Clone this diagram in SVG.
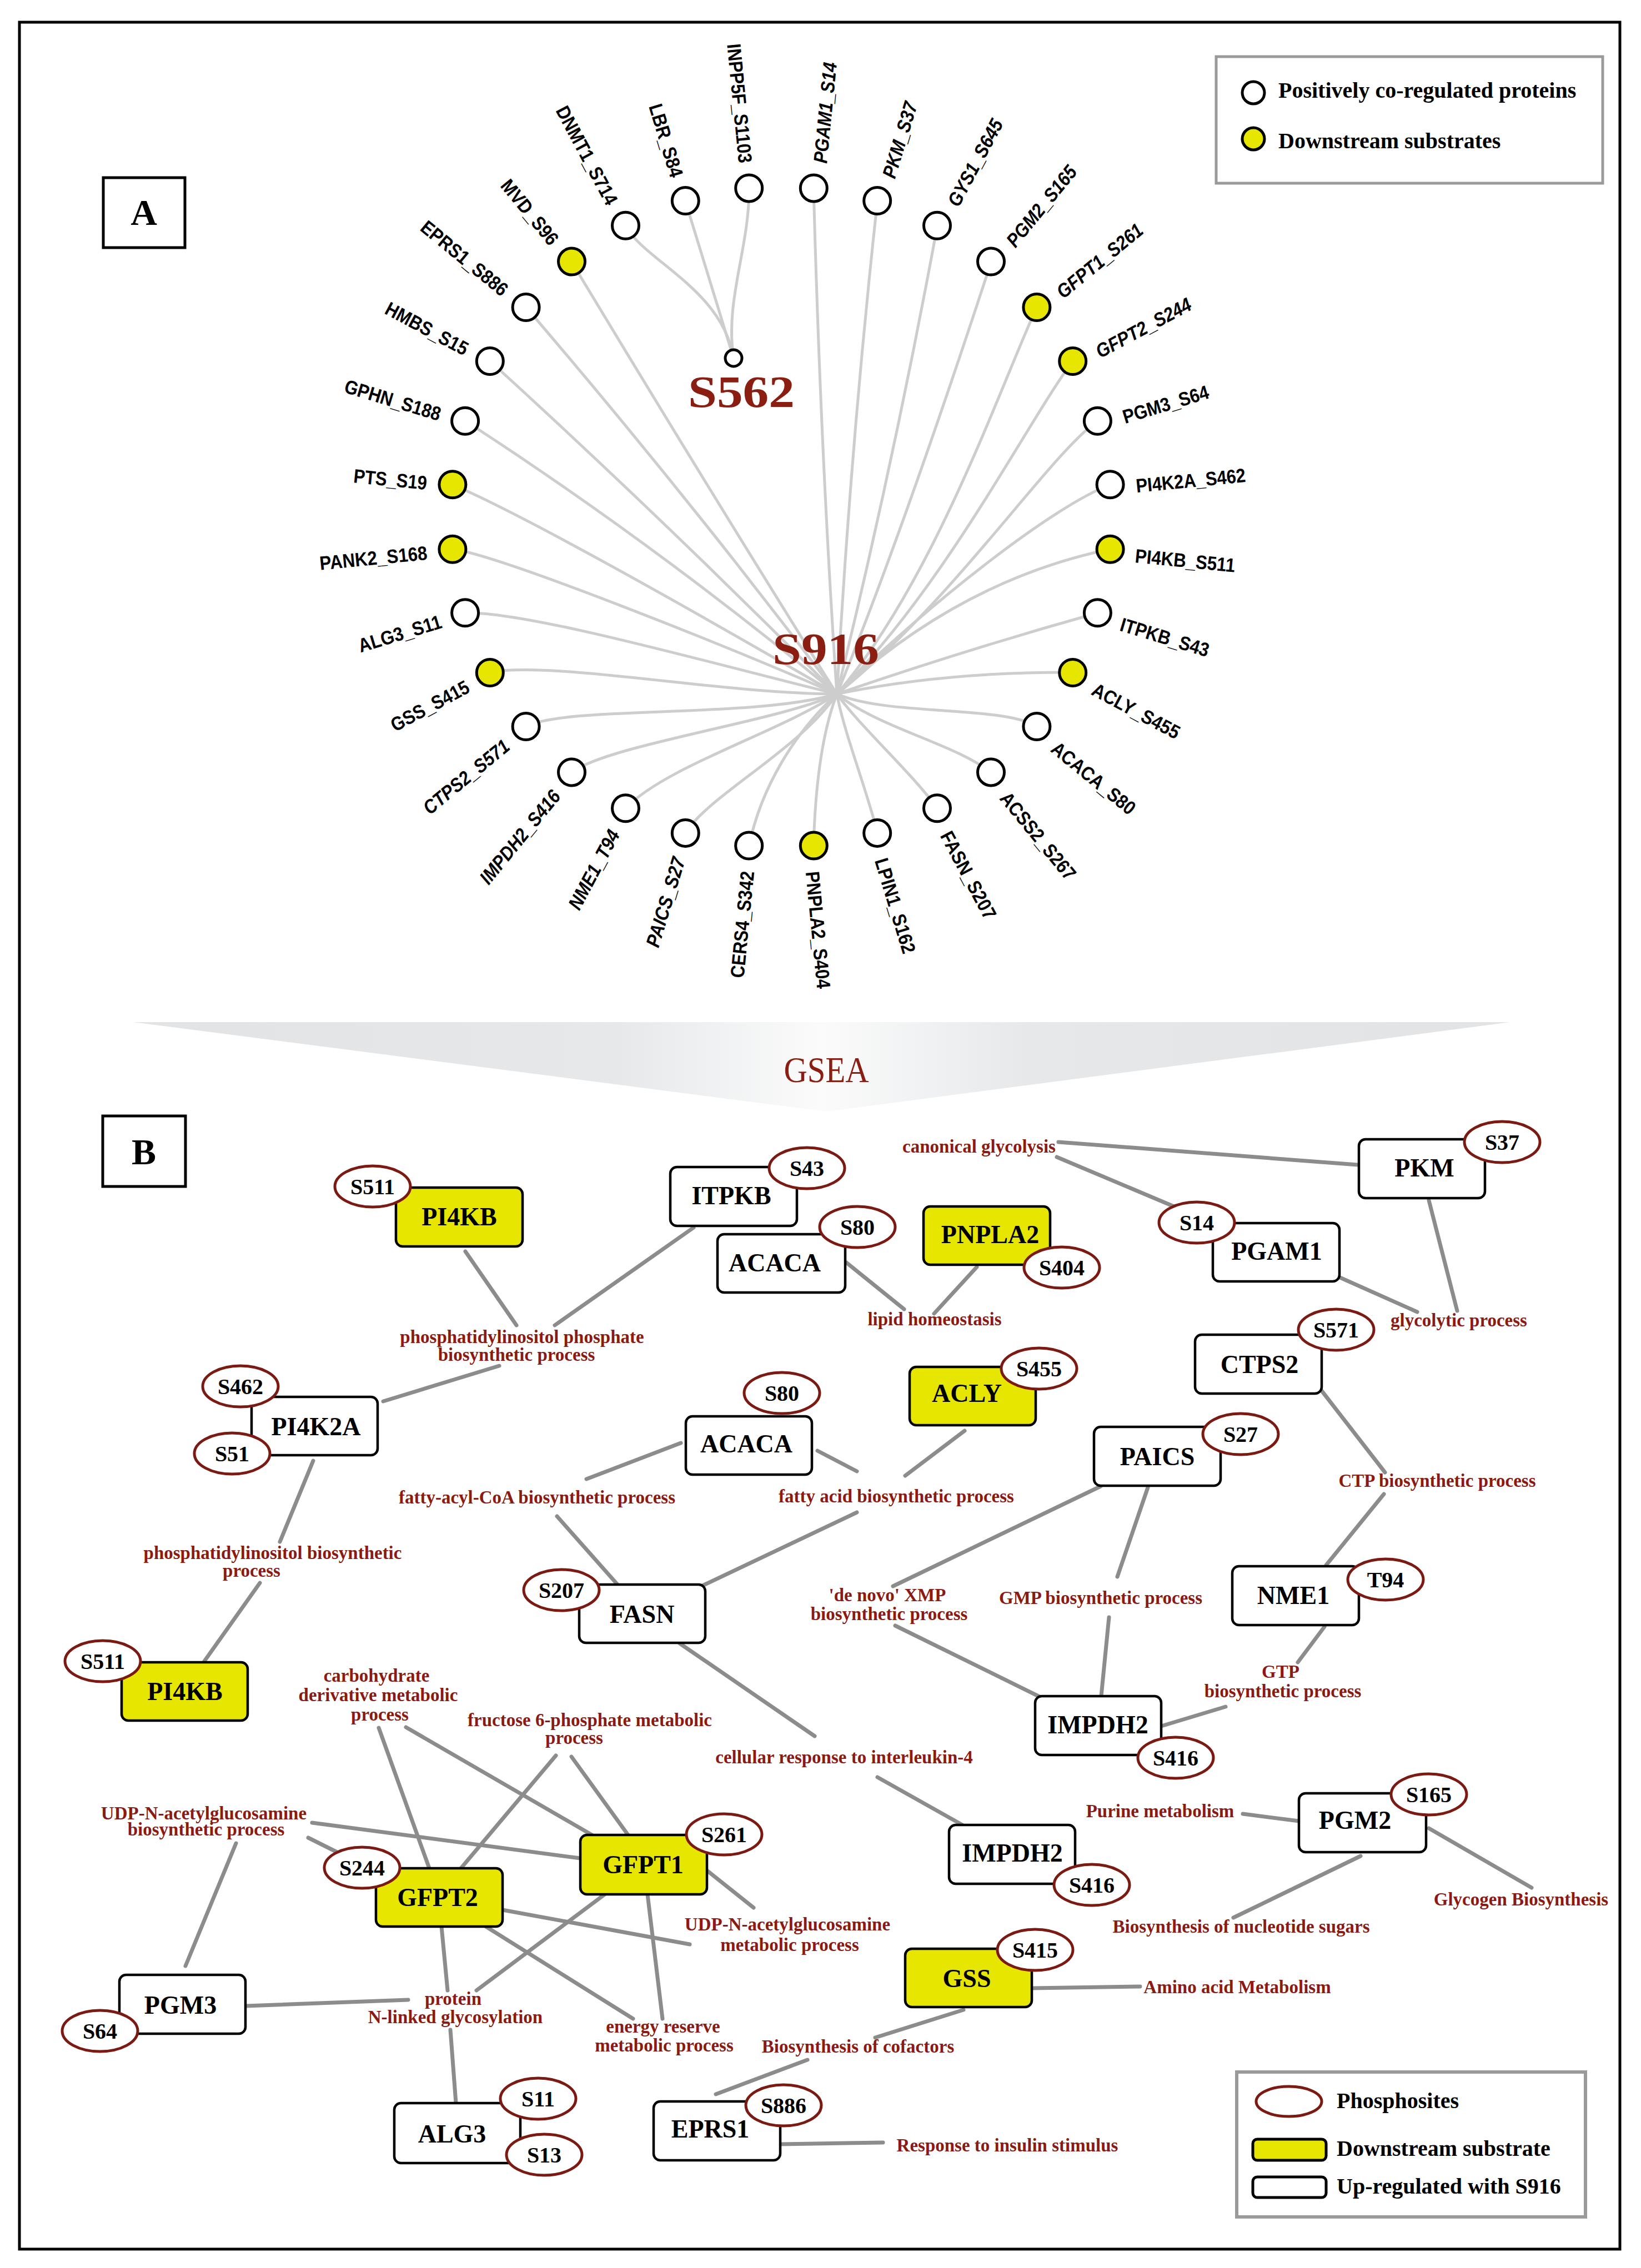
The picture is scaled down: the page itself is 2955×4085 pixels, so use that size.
<svg xmlns="http://www.w3.org/2000/svg" width="2955" height="4085" viewBox="0 0 2955 4085">
<defs>
<linearGradient id="gsea" x1="0" y1="0" x2="1" y2="0">
<stop offset="0" stop-color="#e2e3e5"/>
<stop offset="0.35" stop-color="#e6e8ea"/>
<stop offset="0.5" stop-color="#fbfbfb"/>
<stop offset="0.65" stop-color="#e6e8ea"/>
<stop offset="1" stop-color="#e2e3e5"/>
</linearGradient>
<style>
.ea{fill:none;stroke:#cdcdcd;stroke-width:5}
.na{fill:#fff;stroke:#000;stroke-width:5}
.na.y{fill:#e6e600}
.la{font-family:"Liberation Sans",Arial,sans-serif;font-weight:bold;font-size:35px;fill:#000}
.r{dominant-baseline:auto}
.it{font-style:italic}
.en{text-anchor:end}
.eb{stroke:#8c8c8c;stroke-width:7;stroke-linecap:round}
.nb rect{fill:#fff;stroke:#000;stroke-width:4.5}
.nb.y rect{fill:#e6e600}
.nt{font-family:"Liberation Serif","Times New Roman",serif;font-weight:bold;font-size:46px;text-anchor:middle;fill:#000}
.ps{fill:#fff;stroke:#7b1a12;stroke-width:5}
.pt{font-family:"Liberation Serif","Times New Roman",serif;font-weight:bold;font-size:40px;text-anchor:middle;fill:#000}
.gl{font-family:"Liberation Serif","Times New Roman",serif;font-weight:bold;font-size:33px;text-anchor:middle;fill:#8a1a12}
.lg{font-family:"Liberation Serif","Times New Roman",serif;font-weight:bold;font-size:40px;fill:#000}
.hub{font-family:"Liberation Serif","Times New Roman",serif;font-weight:bold;font-size:80px;text-anchor:middle;fill:#8b1e12}
.pl{font-family:"Liberation Serif","Times New Roman",serif;font-weight:bold;font-size:66px;text-anchor:middle;fill:#000}
</style>
</defs>
<rect x="0" y="0" width="2955" height="4085" fill="#fff"/>
<rect x="35" y="40" width="2882" height="4011" fill="none" stroke="#000" stroke-width="5"/>

<!-- Panel A -->
<g id="panelA-label"><rect x="186" y="320" width="147" height="126" fill="#fff" stroke="#000" stroke-width="5"/><text class="pl" x="259" y="405">A</text></g>

<g id="legendA">
<rect x="2190" y="102" width="696" height="228" fill="#fff" stroke="#9a9a9a" stroke-width="5"/>
<circle class="na" cx="2257" cy="167" r="20"/>
<circle class="na y" cx="2257" cy="250" r="20"/>
<text class="lg" x="2302" y="176">Positively co-regulated proteins</text>
<text class="lg" x="2302" y="267">Downstream substrates</text>
</g>

<g id="connectorsA">
<path class="ea" d="M1465,339 Q1478,820 1507,1250"/>
<path class="ea" d="M1580,362 Q1532,800 1507,1250"/>
<path class="ea" d="M1688,406 Q1610,830 1507,1250"/>
<path class="ea" d="M1785,471 C1730,640 1610,1000 1507,1250"/>
<path class="ea" d="M1867,553 C1800,700 1680,1050 1507,1250"/>
<path class="ea" d="M1932,650 C1850,760 1700,1060 1507,1250"/>
<path class="ea" d="M1976,758 C1880,830 1720,1080 1507,1250"/>
<path class="ea" d="M1999,873 C1900,910 1680,1080 1507,1250"/>
<path class="ea" d="M1999,989 Q1730,1045 1507,1250"/>
<path class="ea" d="M1976,1104 Q1740,1170 1507,1250"/>
<path class="ea" d="M1932,1211 Q1700,1210 1507,1250"/>
<path class="ea" d="M1867,1308 C1800,1270 1600,1290 1507,1250"/>
<path class="ea" d="M1784,1391 C1720,1340 1580,1310 1507,1250"/>
<path class="ea" d="M1688,1456 C1640,1390 1550,1310 1507,1250"/>
<path class="ea" d="M1580,1500 C1560,1420 1520,1320 1507,1250"/>
<path class="ea" d="M1465,1523 C1468,1420 1480,1320 1507,1250"/>
<path class="ea" d="M1349,1523 C1370,1420 1430,1320 1507,1250"/>
<path class="ea" d="M1234,1500 C1280,1430 1440,1350 1507,1250"/>
<path class="ea" d="M1126,1456 C1200,1380 1400,1320 1507,1250"/>
<path class="ea" d="M1029,1391 C1100,1340 1400,1300 1507,1250"/>
<path class="ea" d="M947,1308 C1030,1270 1350,1295 1507,1250"/>
<path class="ea" d="M882,1211 C1000,1190 1300,1250 1507,1250"/>
<path class="ea" d="M838,1104 C950,1100 1300,1200 1507,1250"/>
<path class="ea" d="M815,989 C900,1000 1300,1160 1507,1250"/>
<path class="ea" d="M815,873 C950,930 1300,1130 1507,1250"/>
<path class="ea" d="M838,758 Q1180,980 1507,1250"/>
<path class="ea" d="M882,650 Q1200,940 1507,1250"/>
<path class="ea" d="M947,553 Q1240,895 1507,1250"/>
<path class="ea" d="M1029,471 Q1260,855 1507,1250"/>
<path class="ea" d="M1126,406 C1160,470 1300,520 1321,645"/>
<path class="ea" d="M1234,362 L1321,645"/>
<path class="ea" d="M1349,339 C1349,450 1305,540 1321,645"/>
</g>

<g id="hub-S916"><text class="hub" x="1487" y="1196" textLength="192" lengthAdjust="spacingAndGlyphs">S916</text></g>
<g id="hub-S562"><circle class="na" cx="1321" cy="645" r="15"/><text class="hub" x="1335" y="733" textLength="192" lengthAdjust="spacingAndGlyphs">S562</text></g>

<g id="nA-PGAM1_S14"><circle class="na" cx="1465.3" cy="338.9" r="24"/><text class="la it" x="1469.8" y="293.1" dy="0.55em" textLength="182.6" lengthAdjust="spacingAndGlyphs" transform="rotate(-84.375 1469.8 293.1)">PGAM1_S14</text></g>
<g id="nA-PKM_S37"><circle class="na" cx="1579.7" cy="361.6" r="24"/><text class="la it" x="1593.1" y="317.6" dy="0.55em" textLength="141.3" lengthAdjust="spacingAndGlyphs" transform="rotate(-73.125 1593.1 317.6)">PKM_S37</text></g>
<g id="nA-GYS1_S645"><circle class="na" cx="1687.5" cy="406.3" r="24"/><text class="la it" x="1709.2" y="365.7" dy="0.55em" textLength="172.3" lengthAdjust="spacingAndGlyphs" transform="rotate(-61.875 1709.2 365.7)">GYS1_S645</text></g>
<g id="nA-PGM2_S165"><circle class="na" cx="1784.5" cy="471.1" r="24"/><text class="la it" x="1813.7" y="435.5" dy="0.55em" textLength="177.5" lengthAdjust="spacingAndGlyphs" transform="rotate(-50.625 1813.7 435.5)">PGM2_S165</text></g>
<g id="nA-GFPT1_S261"><circle class="na y" cx="1866.9" cy="553.5" r="24"/><text class="la it" x="1902.5" y="524.3" dy="0.55em" textLength="189.5" lengthAdjust="spacingAndGlyphs" transform="rotate(-39.375 1902.5 524.3)">GFPT1_S261</text></g>
<g id="nA-GFPT2_S244"><circle class="na y" cx="1931.7" cy="650.5" r="24"/><text class="la it" x="1972.3" y="628.8" dy="0.55em" textLength="189.5" lengthAdjust="spacingAndGlyphs" transform="rotate(-28.125 1972.3 628.8)">GFPT2_S244</text></g>
<g id="nA-PGM3_S64"><circle class="na" cx="1976.4" cy="758.3" r="24"/><text class="la" x="2020.4" y="744.9" dy="0.55em" textLength="160.2" lengthAdjust="spacingAndGlyphs" transform="rotate(-16.875 2020.4 744.9)">PGM3_S64</text></g>
<g id="nA-PI4K2A_S462"><circle class="na" cx="1999.1" cy="872.7" r="24"/><text class="la" x="2044.9" y="868.2" dy="0.55em" textLength="198.2" lengthAdjust="spacingAndGlyphs" transform="rotate(-5.625 2044.9 868.2)">PI4K2A_S462</text></g>
<g id="nA-PI4KB_S511"><circle class="na y" cx="1999.1" cy="989.3" r="24"/><text class="la" x="2044.9" y="993.8" dy="0.55em" textLength="180.9" lengthAdjust="spacingAndGlyphs" transform="rotate(5.625 2044.9 993.8)">PI4KB_S511</text></g>
<g id="nA-ITPKB_S43"><circle class="na" cx="1976.4" cy="1103.7" r="24"/><text class="la" x="2020.4" y="1117.1" dy="0.55em" textLength="165.4" lengthAdjust="spacingAndGlyphs" transform="rotate(16.875 2020.4 1117.1)">ITPKB_S43</text></g>
<g id="nA-ACLY_S455"><circle class="na y" cx="1931.7" cy="1211.5" r="24"/><text class="la" x="1972.3" y="1233.2" dy="0.55em" textLength="174" lengthAdjust="spacingAndGlyphs" transform="rotate(28.125 1972.3 1233.2)">ACLY_S455</text></g>
<g id="nA-ACACA_S80"><circle class="na" cx="1866.9" cy="1308.5" r="24"/><text class="la" x="1902.5" y="1337.7" dy="0.55em" textLength="184.3" lengthAdjust="spacingAndGlyphs" transform="rotate(39.375 1902.5 1337.7)">ACACA_S80</text></g>
<g id="nA-ACSS2_S267"><circle class="na" cx="1784.5" cy="1390.9" r="24"/><text class="la" x="1813.7" y="1426.5" dy="0.55em" textLength="193" lengthAdjust="spacingAndGlyphs" transform="rotate(50.625 1813.7 1426.5)">ACSS2_S267</text></g>
<g id="nA-FASN_S207"><circle class="na" cx="1687.5" cy="1455.7" r="24"/><text class="la" x="1709.2" y="1496.3" dy="0.55em" textLength="174" lengthAdjust="spacingAndGlyphs" transform="rotate(61.875 1709.2 1496.3)">FASN_S207</text></g>
<g id="nA-LPIN1_S162"><circle class="na" cx="1579.7" cy="1500.4" r="24"/><text class="la" x="1593.1" y="1544.4" dy="0.55em" textLength="177.5" lengthAdjust="spacingAndGlyphs" transform="rotate(73.125 1593.1 1544.4)">LPIN1_S162</text></g>
<g id="nA-PNPLA2_S404"><circle class="na y" cx="1465.3" cy="1523.1" r="24"/><text class="la" x="1469.8" y="1568.9" dy="0.55em" textLength="211.9" lengthAdjust="spacingAndGlyphs" transform="rotate(84.375 1469.8 1568.9)">PNPLA2_S404</text></g>
<g id="nA-CERS4_S342"><circle class="na" cx="1348.7" cy="1523.1" r="24"/><text class="la en" x="1344.2" y="1568.9" dy="0.4em" textLength="193" lengthAdjust="spacingAndGlyphs" transform="rotate(-84.375 1344.2 1568.9)">CERS4_S342</text></g>
<g id="nA-PAICS_S27"><circle class="na" cx="1234.3" cy="1500.4" r="24"/><text class="la en it" x="1220.9" y="1544.4" dy="0.4em" textLength="167.1" lengthAdjust="spacingAndGlyphs" transform="rotate(-73.125 1220.9 1544.4)">PAICS_S27</text></g>
<g id="nA-NME1_T94"><circle class="na" cx="1126.5" cy="1455.7" r="24"/><text class="la en it" x="1104.8" y="1496.3" dy="0.4em" textLength="156.8" lengthAdjust="spacingAndGlyphs" transform="rotate(-61.875 1104.8 1496.3)">NME1_T94</text></g>
<g id="nA-IMPDH2_S416"><circle class="na" cx="1029.5" cy="1390.9" r="24"/><text class="la en it" x="1000.3" y="1426.5" dy="0.4em" textLength="206.7" lengthAdjust="spacingAndGlyphs" transform="rotate(-50.625 1000.3 1426.5)">IMPDH2_S416</text></g>
<g id="nA-CTPS2_S571"><circle class="na" cx="947.1" cy="1308.5" r="24"/><text class="la en it" x="911.5" y="1337.7" dy="0.4em" textLength="189.5" lengthAdjust="spacingAndGlyphs" transform="rotate(-39.375 911.5 1337.7)">CTPS2_S571</text></g>
<g id="nA-GSS_S415"><circle class="na y" cx="882.3" cy="1211.5" r="24"/><text class="la en" x="841.7" y="1233.2" dy="0.4em" textLength="155.1" lengthAdjust="spacingAndGlyphs" transform="rotate(-28.125 841.7 1233.2)">GSS_S415</text></g>
<g id="nA-ALG3_S11"><circle class="na" cx="837.6" cy="1103.7" r="24"/><text class="la en" x="793.6" y="1117.1" dy="0.4em" textLength="155.1" lengthAdjust="spacingAndGlyphs" transform="rotate(-16.875 793.6 1117.1)">ALG3_S11</text></g>
<g id="nA-PANK2_S168"><circle class="na y" cx="814.9" cy="989.3" r="24"/><text class="la en" x="769.1" y="993.8" dy="0.4em" textLength="194.7" lengthAdjust="spacingAndGlyphs" transform="rotate(-5.625 769.1 993.8)">PANK2_S168</text></g>
<g id="nA-PTS_S19"><circle class="na y" cx="814.9" cy="872.7" r="24"/><text class="la en" x="769.1" y="868.2" dy="0.4em" textLength="132.7" lengthAdjust="spacingAndGlyphs" transform="rotate(5.625 769.1 868.2)">PTS_S19</text></g>
<g id="nA-GPHN_S188"><circle class="na" cx="837.6" cy="758.3" r="24"/><text class="la en" x="793.6" y="744.9" dy="0.4em" textLength="179.2" lengthAdjust="spacingAndGlyphs" transform="rotate(16.875 793.6 744.9)">GPHN_S188</text></g>
<g id="nA-HMBS_S15"><circle class="na" cx="882.3" cy="650.5" r="24"/><text class="la en" x="841.7" y="628.8" dy="0.4em" textLength="163.6" lengthAdjust="spacingAndGlyphs" transform="rotate(28.125 841.7 628.8)">HMBS_S15</text></g>
<g id="nA-EPRS1_S886"><circle class="na" cx="947.1" cy="553.5" r="24"/><text class="la en" x="911.5" y="524.3" dy="0.4em" textLength="191.3" lengthAdjust="spacingAndGlyphs" transform="rotate(39.375 911.5 524.3)">EPRS1_S886</text></g>
<g id="nA-MVD_S96"><circle class="na y" cx="1029.5" cy="471.1" r="24"/><text class="la en" x="1000.3" y="435.5" dy="0.4em" textLength="141.3" lengthAdjust="spacingAndGlyphs" transform="rotate(50.625 1000.3 435.5)">MVD_S96</text></g>
<g id="nA-DNMT1_S714"><circle class="na" cx="1126.5" cy="406.3" r="24"/><text class="la en" x="1104.8" y="365.7" dy="0.4em" textLength="196.4" lengthAdjust="spacingAndGlyphs" transform="rotate(61.875 1104.8 365.7)">DNMT1_S714</text></g>
<g id="nA-LBR_S84"><circle class="na" cx="1234.3" cy="361.6" r="24"/><text class="la en" x="1220.9" y="317.6" dy="0.4em" textLength="136.1" lengthAdjust="spacingAndGlyphs" transform="rotate(73.125 1220.9 317.6)">LBR_S84</text></g>
<g id="nA-INPP5F_S1103"><circle class="na" cx="1348.7" cy="338.9" r="24"/><text class="la en" x="1344.2" y="293.1" dy="0.4em" textLength="215.4" lengthAdjust="spacingAndGlyphs" transform="rotate(84.375 1344.2 293.1)">INPP5F_S1103</text></g>

<!-- GSEA banner -->
<g id="gsea"><polygon points="240,1841 2719,1841 1488,2002" fill="url(#gsea)"/><text x="1488" y="1949" font-family="'Liberation Serif','Times New Roman',serif" font-size="66" text-anchor="middle" fill="#8b1e12" textLength="153" lengthAdjust="spacingAndGlyphs">GSEA</text></g>

<!-- Panel B -->
<g id="panelB-label"><rect x="185" y="2010" width="149" height="127" fill="#fff" stroke="#000" stroke-width="5"/><text class="pl" x="259" y="2097">B</text></g>

<g id="connectorsB">
<line class="eb" x1="838" y1="2254" x2="930" y2="2387"/>
<line class="eb" x1="999" y1="2387" x2="1249" y2="2211"/>
<line class="eb" x1="690" y1="2524" x2="899" y2="2460"/>
<line class="eb" x1="564" y1="2631" x2="504" y2="2777"/>
<line class="eb" x1="468" y1="2851" x2="368" y2="2992"/>
<line class="eb" x1="1524" y1="2274" x2="1628" y2="2358"/>
<line class="eb" x1="1759" y1="2282" x2="1682" y2="2366"/>
<line class="eb" x1="1906" y1="2057" x2="2445" y2="2098"/>
<line class="eb" x1="1903" y1="2084" x2="2114" y2="2173"/>
<line class="eb" x1="2413" y1="2301" x2="2552" y2="2363"/>
<line class="eb" x1="2573" y1="2162" x2="2624" y2="2361"/>
<line class="eb" x1="1226" y1="2599" x2="1056" y2="2664"/>
<line class="eb" x1="1472" y1="2613" x2="1543" y2="2650"/>
<line class="eb" x1="1737" y1="2577" x2="1630" y2="2658"/>
<line class="eb" x1="1003" y1="2731" x2="1112" y2="2854"/>
<line class="eb" x1="1543" y1="2724" x2="1265" y2="2856"/>
<line class="eb" x1="2380" y1="2505" x2="2494" y2="2652"/>
<line class="eb" x1="2492" y1="2691" x2="2388" y2="2819"/>
<line class="eb" x1="1982" y1="2677" x2="1608" y2="2857"/>
<line class="eb" x1="2067" y1="2679" x2="2012" y2="2840"/>
<line class="eb" x1="1612" y1="2928" x2="1872" y2="3056"/>
<line class="eb" x1="1997" y1="2913" x2="1983" y2="3055"/>
<line class="eb" x1="2385" y1="2930" x2="2337" y2="2994"/>
<line class="eb" x1="2091" y1="3109" x2="2207" y2="3074"/>
<line class="eb" x1="1224" y1="2960" x2="1467" y2="3127"/>
<line class="eb" x1="1580" y1="3201" x2="1733" y2="3287"/>
<line class="eb" x1="2238" y1="3267" x2="2339" y2="3280"/>
<line class="eb" x1="2450" y1="3343" x2="2221" y2="3454"/>
<line class="eb" x1="2573" y1="3293" x2="2758" y2="3400"/>
<line class="eb" x1="1858" y1="3581" x2="2053" y2="3578"/>
<line class="eb" x1="1735" y1="3620" x2="1576" y2="3670"/>
<line class="eb" x1="1454" y1="3710" x2="1289" y2="3772"/>
<line class="eb" x1="1405" y1="3862" x2="1590" y2="3859"/>
<line class="eb" x1="425" y1="3320" x2="334" y2="3541"/>
<line class="eb" x1="562" y1="3283" x2="1045" y2="3347"/>
<line class="eb" x1="555" y1="3310" x2="607" y2="3336"/>
<line class="eb" x1="682" y1="3112" x2="773" y2="3365"/>
<line class="eb" x1="731" y1="3111" x2="1066" y2="3305"/>
<line class="eb" x1="1001" y1="3162" x2="830" y2="3365"/>
<line class="eb" x1="1029" y1="3164" x2="1131" y2="3305"/>
<line class="eb" x1="795" y1="3470" x2="806" y2="3585"/>
<line class="eb" x1="1089" y1="3412" x2="858" y2="3585"/>
<line class="eb" x1="905" y1="3440" x2="1242" y2="3502"/>
<line class="eb" x1="875" y1="3470" x2="1140" y2="3636"/>
<line class="eb" x1="443" y1="3613" x2="735" y2="3602"/>
<line class="eb" x1="811" y1="3656" x2="821" y2="3788"/>
<line class="eb" x1="1273" y1="3369" x2="1357" y2="3436"/>
<line class="eb" x1="1166" y1="3412" x2="1193" y2="3636"/>
</g>

<g id="labelsB">
<text class="gl" x="940" y="2419">phosphatidylinositol phosphate</text>
<text class="gl" x="930" y="2451">biosynthetic process</text>
<text class="gl" x="1683" y="2387">lipid homeostasis</text>
<text class="gl" x="1763" y="2076">canonical glycolysis</text>
<text class="gl" x="2627" y="2389">glycolytic process</text>
<text class="gl" x="491" y="2808">phosphatidylinositol biosynthetic</text>
<text class="gl" x="453" y="2840">process</text>
<text class="gl" x="967" y="2708">fatty-acyl-CoA biosynthetic process</text>
<text class="gl" x="1614" y="2706">fatty acid biosynthetic process</text>
<text class="gl" x="2588" y="2678">CTP biosynthetic process</text>
<text class="gl" x="1598" y="2884">'de novo' XMP</text>
<text class="gl" x="1601" y="2918">biosynthetic process</text>
<text class="gl" x="1982" y="2889">GMP biosynthetic process</text>
<text class="gl" x="2306" y="3022">GTP</text>
<text class="gl" x="2310" y="3057">biosynthetic process</text>
<text class="gl" x="1520" y="3176">cellular response to interleukin-4</text>
<text class="gl" x="2089" y="3273">Purine metabolism</text>
<text class="gl" x="2235" y="3481">Biosynthesis of nucleotide sugars</text>
<text class="gl" x="2739" y="3432">Glycogen Biosynthesis</text>
<text class="gl" x="2228" y="3590">Amino acid Metabolism</text>
<text class="gl" x="1418" y="3477">UDP-N-acetylglucosamine</text>
<text class="gl" x="1422" y="3514">metabolic process</text>
<text class="gl" x="1194" y="3661">energy reserve</text>
<text class="gl" x="1196" y="3695">metabolic process</text>
<text class="gl" x="1545" y="3697">Biosynthesis of cofactors</text>
<text class="gl" x="1814" y="3875">Response to insulin stimulus</text>
<text class="gl" x="678" y="3029">carbohydrate</text>
<text class="gl" x="681" y="3064">derivative metabolic</text>
<text class="gl" x="684" y="3099">process</text>
<text class="gl" x="1062" y="3109">fructose 6-phosphate metabolic</text>
<text class="gl" x="1034" y="3141">process</text>
<text class="gl" x="367" y="3277">UDP-N-acetylglucosamine</text>
<text class="gl" x="371" y="3306">biosynthetic process</text>
<text class="gl" x="816" y="3611">protein</text>
<text class="gl" x="820" y="3644">N-linked glycosylation</text>
</g>

<g id="nB-PI4KB-1" class="nb y"><rect x="713" y="2139" width="228" height="106" rx="12"/><text class="nt" x="827" y="2207">PI4KB</text><ellipse class="ps" cx="671" cy="2137" rx="68" ry="37"/><text class="pt" x="671" y="2151">S511</text></g>
<g id="nB-ITPKB" class="nb"><rect x="1207" y="2102" width="228" height="106" rx="12"/><text class="nt" x="1317" y="2169">ITPKB</text><ellipse class="ps" cx="1453" cy="2104" rx="68" ry="37"/><text class="pt" x="1453" y="2118">S43</text></g>
<g id="nB-ACACA-1" class="nb"><rect x="1292" y="2223" width="230" height="105" rx="12"/><text class="nt" x="1395" y="2290">ACACA</text><ellipse class="ps" cx="1544" cy="2210" rx="68" ry="37"/><text class="pt" x="1544" y="2224">S80</text></g>
<g id="nB-PNPLA2" class="nb y"><rect x="1663" y="2173" width="228" height="105" rx="12"/><text class="nt" x="1783" y="2239">PNPLA2</text><ellipse class="ps" cx="1912" cy="2283" rx="68" ry="37"/><text class="pt" x="1912" y="2297">S404</text></g>
<g id="nB-PKM" class="nb"><rect x="2447" y="2052" width="227" height="106" rx="12"/><text class="nt" x="2565" y="2119">PKM</text><ellipse class="ps" cx="2705" cy="2057" rx="68" ry="37"/><text class="pt" x="2705" y="2071">S37</text></g>
<g id="nB-PGAM1" class="nb"><rect x="2184" y="2203" width="228" height="105" rx="12"/><text class="nt" x="2299" y="2269">PGAM1</text><ellipse class="ps" cx="2155" cy="2202" rx="68" ry="37"/><text class="pt" x="2155" y="2216">S14</text></g>
<g id="nB-PI4K2A" class="nb"><rect x="453" y="2516" width="227" height="105" rx="12"/><text class="nt" x="569" y="2585">PI4K2A</text><ellipse class="ps" cx="433" cy="2497" rx="68" ry="37"/><text class="pt" x="433" y="2511">S462</text><ellipse class="ps" cx="418" cy="2618" rx="68" ry="37"/><text class="pt" x="418" y="2632">S51</text></g>
<g id="nB-ACACA-2" class="nb"><rect x="1235" y="2551" width="227" height="105" rx="12"/><text class="nt" x="1344" y="2616">ACACA</text><ellipse class="ps" cx="1408" cy="2509" rx="68" ry="37"/><text class="pt" x="1408" y="2523">S80</text></g>
<g id="nB-ACLY" class="nb y"><rect x="1638" y="2462" width="227" height="105" rx="12"/><text class="nt" x="1741" y="2525">ACLY</text><ellipse class="ps" cx="1871" cy="2465" rx="68" ry="37"/><text class="pt" x="1871" y="2479">S455</text></g>
<g id="nB-CTPS2" class="nb"><rect x="2152" y="2404" width="228" height="106" rx="12"/><text class="nt" x="2268" y="2473">CTPS2</text><ellipse class="ps" cx="2406" cy="2395" rx="68" ry="37"/><text class="pt" x="2406" y="2409">S571</text></g>
<g id="nB-PAICS" class="nb"><rect x="1970" y="2570" width="228" height="106" rx="12"/><text class="nt" x="2084" y="2639">PAICS</text><ellipse class="ps" cx="2234" cy="2583" rx="68" ry="37"/><text class="pt" x="2234" y="2597">S27</text></g>
<g id="nB-FASN" class="nb"><rect x="1043" y="2854" width="227" height="105" rx="12"/><text class="nt" x="1156" y="2923">FASN</text><ellipse class="ps" cx="1011" cy="2864" rx="68" ry="37"/><text class="pt" x="1011" y="2878">S207</text></g>
<g id="nB-NME1" class="nb"><rect x="2219" y="2821" width="228" height="106" rx="12"/><text class="nt" x="2329" y="2889">NME1</text><ellipse class="ps" cx="2495" cy="2845" rx="68" ry="37"/><text class="pt" x="2495" y="2859">T94</text></g>
<g id="nB-IMPDH2-1" class="nb"><rect x="1864" y="3055" width="227" height="106" rx="12"/><text class="nt" x="1977" y="3122">IMPDH2</text><ellipse class="ps" cx="2117" cy="3166" rx="68" ry="37"/><text class="pt" x="2117" y="3180">S416</text></g>
<g id="nB-IMPDH2-2" class="nb"><rect x="1709" y="3287" width="227" height="106" rx="12"/><text class="nt" x="1823" y="3353">IMPDH2</text><ellipse class="ps" cx="1966" cy="3395" rx="68" ry="37"/><text class="pt" x="1966" y="3409">S416</text></g>
<g id="nB-PGM2" class="nb"><rect x="2339" y="3230" width="229" height="106" rx="12"/><text class="nt" x="2440" y="3294">PGM2</text><ellipse class="ps" cx="2573" cy="3232" rx="68" ry="37"/><text class="pt" x="2573" y="3246">S165</text></g>
<g id="nB-PI4KB-2" class="nb y"><rect x="219" y="2994" width="227" height="105" rx="12"/><text class="nt" x="333" y="3062">PI4KB</text><ellipse class="ps" cx="185" cy="2992" rx="68" ry="37"/><text class="pt" x="185" y="3006">S511</text></g>
<g id="nB-GFPT1" class="nb y"><rect x="1045" y="3305" width="228" height="107" rx="12"/><text class="nt" x="1158" y="3374">GFPT1</text><ellipse class="ps" cx="1304" cy="3304" rx="68" ry="37"/><text class="pt" x="1304" y="3318">S261</text></g>
<g id="nB-GFPT2" class="nb y"><rect x="677" y="3365" width="228" height="105" rx="12"/><text class="nt" x="788" y="3433">GFPT2</text><ellipse class="ps" cx="652" cy="3364" rx="68" ry="37"/><text class="pt" x="652" y="3378">S244</text></g>
<g id="nB-PGM3" class="nb"><rect x="215" y="3557" width="227" height="106" rx="12"/><text class="nt" x="325" y="3627">PGM3</text><ellipse class="ps" cx="180" cy="3658" rx="68" ry="37"/><text class="pt" x="180" y="3672">S64</text></g>
<g id="nB-GSS" class="nb y"><rect x="1630" y="3510" width="228" height="105" rx="12"/><text class="nt" x="1741" y="3579">GSS</text><ellipse class="ps" cx="1864" cy="3512" rx="68" ry="37"/><text class="pt" x="1864" y="3526">S415</text></g>
<g id="nB-ALG3" class="nb"><rect x="710" y="3788" width="227" height="108" rx="12"/><text class="nt" x="814" y="3859">ALG3</text><ellipse class="ps" cx="969" cy="3780" rx="68" ry="37"/><text class="pt" x="969" y="3794">S11</text><ellipse class="ps" cx="980" cy="3881" rx="68" ry="37"/><text class="pt" x="980" y="3895">S13</text></g>
<g id="nB-EPRS1" class="nb"><rect x="1177" y="3785" width="228" height="106" rx="12"/><text class="nt" x="1279" y="3850">EPRS1</text><ellipse class="ps" cx="1411" cy="3792" rx="68" ry="37"/><text class="pt" x="1411" y="3806">S886</text></g>

<g id="legendB">
<rect x="2227" y="3732" width="628" height="261" fill="#fff" stroke="#9a9a9a" stroke-width="6"/>
<ellipse class="ps" cx="2321" cy="3785" rx="59" ry="27"/>
<text class="lg" x="2407" y="3797">Phosphosites</text>
<rect x="2256" y="3853" width="132" height="38" rx="8" fill="#e6e600" stroke="#000" stroke-width="5"/>
<text class="lg" x="2407" y="3883">Downstream substrate</text>
<rect x="2256" y="3921" width="132" height="37" rx="8" fill="#fff" stroke="#000" stroke-width="5"/>
<text class="lg" x="2407" y="3951">Up-regulated with S916</text>
</g>
</svg>
